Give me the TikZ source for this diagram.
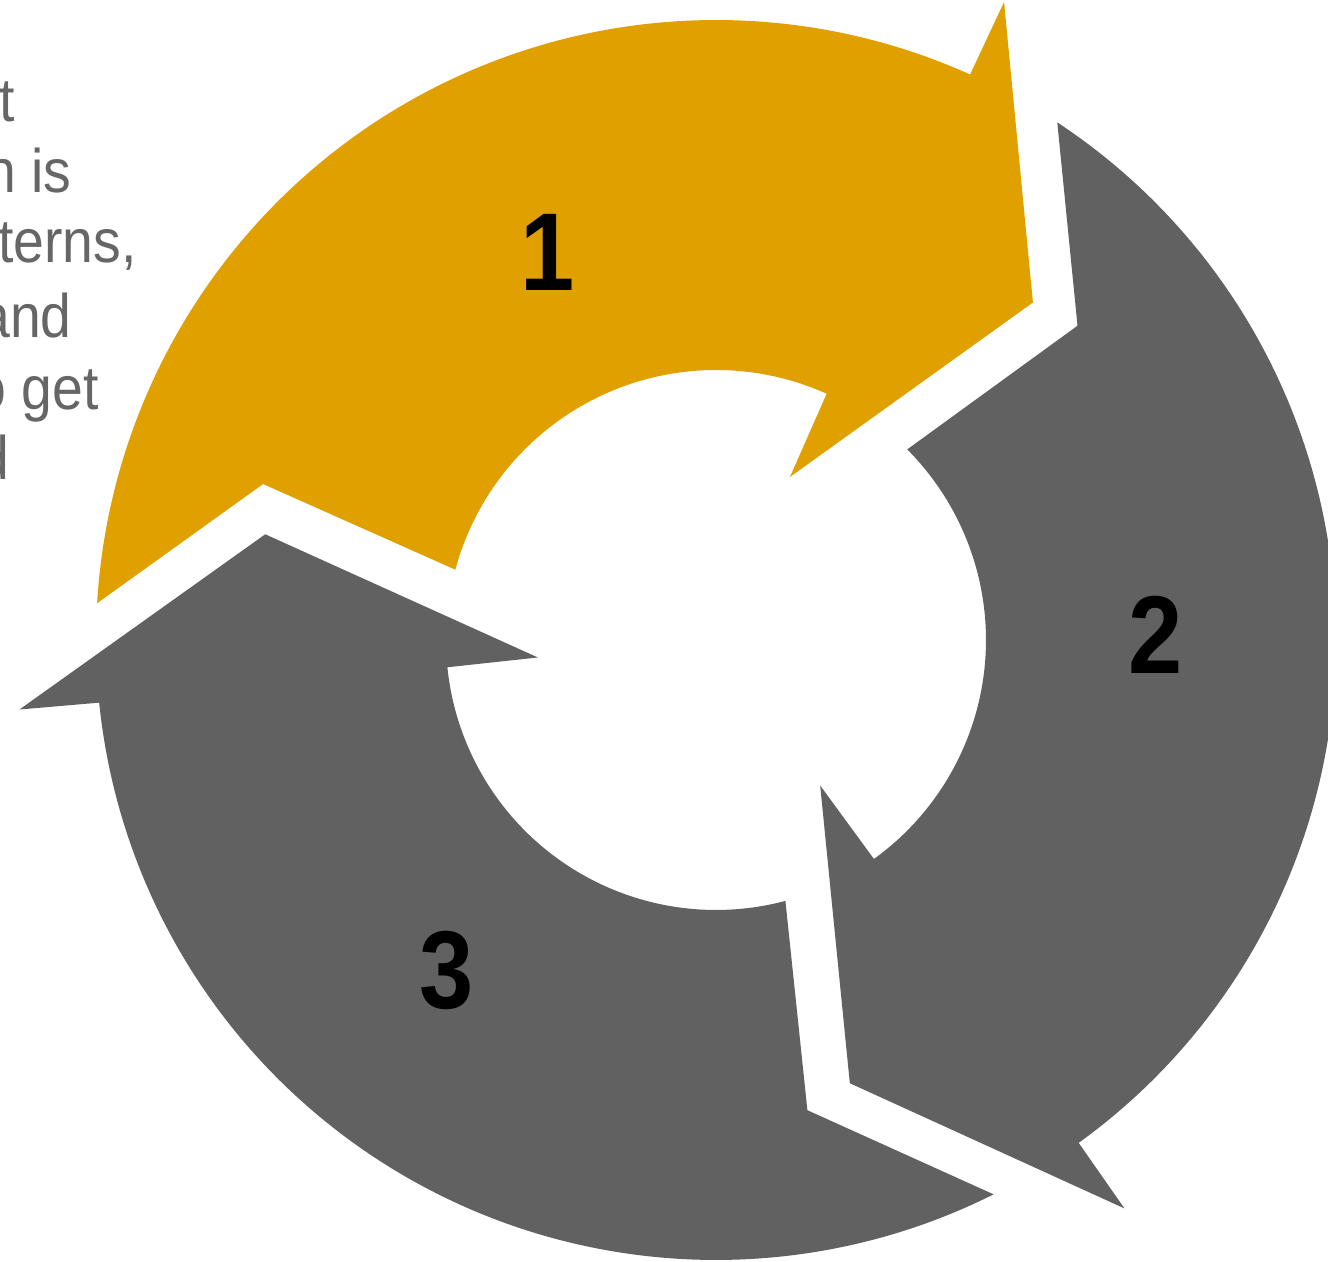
\documentclass[tikz,border=0pt]{standalone}
\usepackage{fontspec}
\setmainfont{Liberation Sans}
\usepackage{xcolor}
\usepackage{tikz}
\usetikzlibrary{positioning, calc}

\definecolor{stepgold}{RGB}{223,160,0}
\definecolor{stepgray}{RGB}{97,97,97}
\definecolor{notegray}{RGB}{102,102,102}

% one segment of the cycle, head pointing clockwise
\newcommand{\cyclearrow}[1]{%
\fill[#1] (176.6:620) arc[start angle=176.6, end angle=65.8, radius=620]
  -- (65.7:700) -- (46.8:463) -- (65.6:179) -- (65.8:270)
  arc[start angle=65.8, end angle=164.9, radius=270]
  -- (161:479) -- cycle;}

\begin{document}
\begin{tikzpicture}[x=0.2mm, y=0.2mm,
  num/.style={font=\fontsize{63}{70}\selectfont\bfseries, inner sep=0pt, xscale=0.88},
  note/.style={font=\fontsize{35}{42}\selectfont, text=notegray, inner sep=0pt, anchor=base east, xscale=0.9}]
\useasboundingbox (-716,-622) rectangle (612,640);

% Step 1 (gold)
\cyclearrow{stepgold}
\node[num] (n1) at (-168,388) {1};

% Step 2
\begin{scope}[rotate=-120]
\cyclearrow{stepgray}
\end{scope}
\node[num] (n2) at (440,5) {2};

% Step 3
\begin{scope}[rotate=-240]
\cyclearrow{stepgray}
\end{scope}
\node[num] (n3) at (-269,-330) {3};

% side text (cut at the left edge)
\node[note] (l1) at (-701,518) {t};
\node[note] (l2) at (-644,447) {n is};
\node[note] (l3) at (-579,377) {terns,};
\node[note] (l4) at (-644,302) {and};
\node[note] (l5) at (-617,230) {o get};
\node[note] (l6) at (-706,160) {d};
\end{tikzpicture}
\end{document}
